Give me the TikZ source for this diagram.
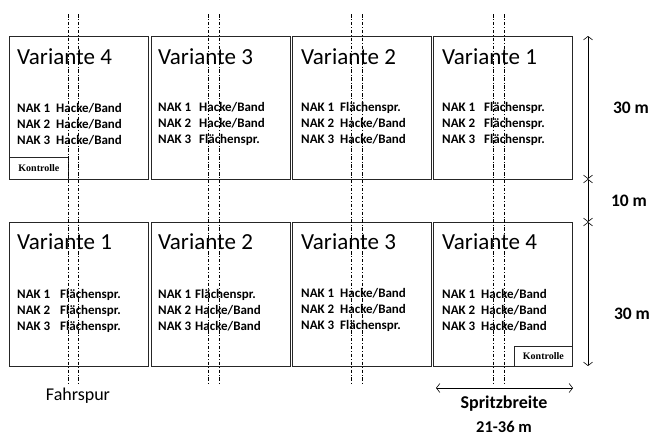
\documentclass[tikz,border=0pt]{standalone}
\usepackage{fontspec}
\setmainfont{Carlito}
\newfontfamily\kontfont{Liberation Serif}
\usetikzlibrary{arrows.meta}
\tikzset{
  plotbox/.style={draw=black!85, line width=0.8pt, minimum width=139pt, minimum height=#1, inner sep=0pt, anchor=north west},
  kontbox/.style={draw=black!85, line width=0.8pt, inner sep=0pt, anchor=north west, font=\kontfont\bfseries\fontsize{10}{12}\selectfont},
  title/.style={anchor=base west, inner sep=0pt, font=\fontsize{23}{26}\selectfont},
  nak/.style={anchor=base west, inner sep=0pt, font=\bfseries\fontsize{13}{15}\selectfont},
  lbl/.style={inner sep=0pt, font=\bfseries\fontsize{17.5}{20}\selectfont},
  track/.style={line width=0.5pt, dash pattern=on 3.5pt off 1.8pt on 0.8pt off 1.8pt},
  dim/.style={line width=0.6pt, {Straight Barb[length=3.5pt,width=9pt]}-{Straight Barb[length=3.5pt,width=9pt]}}
}
\begin{document}
\begin{tikzpicture}[x=1pt,y=-1pt]
\useasboundingbox (0,0) rectangle (653,439);
% plots
\node[plotbox=143pt] (t4) at (9,36) {};
\node[plotbox=143pt] (t3) at (151,36) {};
\node[plotbox=143pt] (t2) at (292,36) {};
\node[plotbox=143pt] (t1) at (433,36) {};
\node[plotbox=144pt] (b1) at (9,222) {};
\node[plotbox=144pt] (b2) at (151,222) {};
\node[plotbox=144pt] (b3) at (292,222) {};
\node[plotbox=144pt] (b4) at (433,222) {};
% Kontrolle boxes
\node[kontbox, minimum width=59pt, minimum height=22pt] (k1) at (9,157) {Kontrolle};
\node[kontbox, minimum width=58pt, minimum height=20pt] (k2) at (514,346) {Kontrolle};
% titles
\node[title] (tt4) at (17,64.5) {Variante 4};
\node[title] (tt3) at (158,64.5) {Variante 3};
\node[title] (tt2) at (301,64.5) {Variante 2};
\node[title] (tt1) at (442,64.5) {Variante 1};
\node[title] (bt1) at (17,249.5) {Variante 1};
\node[title] (bt2) at (158,249.5) {Variante 2};
\node[title] (bt3) at (301,249.5) {Variante 3};
\node[title] (bt4) at (442,249.5) {Variante 4};
% NAK rows: name / x1 / x2 / baseline y / 3 entries
\foreach \n/\xa/\xb/\y/\a/\b/\c in {
  ta/17/56/112.5/Hacke\slash Band/Hacke\slash Band/Hacke\slash Band,
  tb/158/199/111/Hacke\slash Band/Hacke\slash Band/Flächenspr.,
  tc/301/340/111/Flächenspr./Hacke\slash Band/Hacke\slash Band,
  td/442/484/111/Flächenspr./Flächenspr./Flächenspr.,
  ba/17/60/298.5/Flächenspr./Flächenspr./Flächenspr.,
  bb/158/195/298/Flächenspr./Hacke\slash Band/Hacke\slash Band,
  bc/301/340/297.5/Hacke\slash Band/Hacke\slash Band/Flächenspr.,
  bd/442/481/298/Hacke\slash Band/Hacke\slash Band/Hacke\slash Band}{
  \node[nak] (\n k1) at (\xa,\y) {NAK 1};
  \node[nak] (\n v1) at (\xb,\y) {\a};
  \node[nak] (\n k2) at (\xa,\y+16) {NAK 2};
  \node[nak] (\n v2) at (\xb,\y+16) {\b};
  \node[nak] (\n k3) at (\xa,\y+32) {NAK 3};
  \node[nak] (\n v3) at (\xb,\y+32) {\c};
}
% tramlines
\foreach \x [count=\i] in {68,78,208,219,351,362,493,504}{
  \coordinate (f\i a) at (\x,14);
  \coordinate (f\i b) at (\x,384);
  \draw[track] (f\i a) -- (f\i b);
}
\node[inner sep=0pt, font=\fontsize{18}{21}\selectfont] (fahr) at (78,396) {Fahrspur};
% dimensions
\coordinate (v0) at (588,36);
\coordinate (v1) at (588,179);
\coordinate (v2) at (588,222);
\coordinate (v3) at (588,366);
\draw[dim] (v0) -- (v1);
\draw[dim] (v1) -- (v2);
\draw[dim] (v2) -- (v3);
\node[lbl] (l30a) at (631,108) {30 m};
\node[lbl] (l10) at (629,201) {10 m};
\node[lbl] (l30b) at (632,314) {30 m};
\coordinate (h0) at (436,388);
\coordinate (h1) at (573,388);
\draw[dim] (h0) -- (h1);
\node[inner sep=0pt, font=\bfseries\fontsize{18}{21}\selectfont] (spb) at (504,404) {Spritzbreite};
\node[inner sep=0pt, font=\bfseries\fontsize{16.5}{19}\selectfont] (spw) at (504,427) {21-36 m};
\end{tikzpicture}
\end{document}
